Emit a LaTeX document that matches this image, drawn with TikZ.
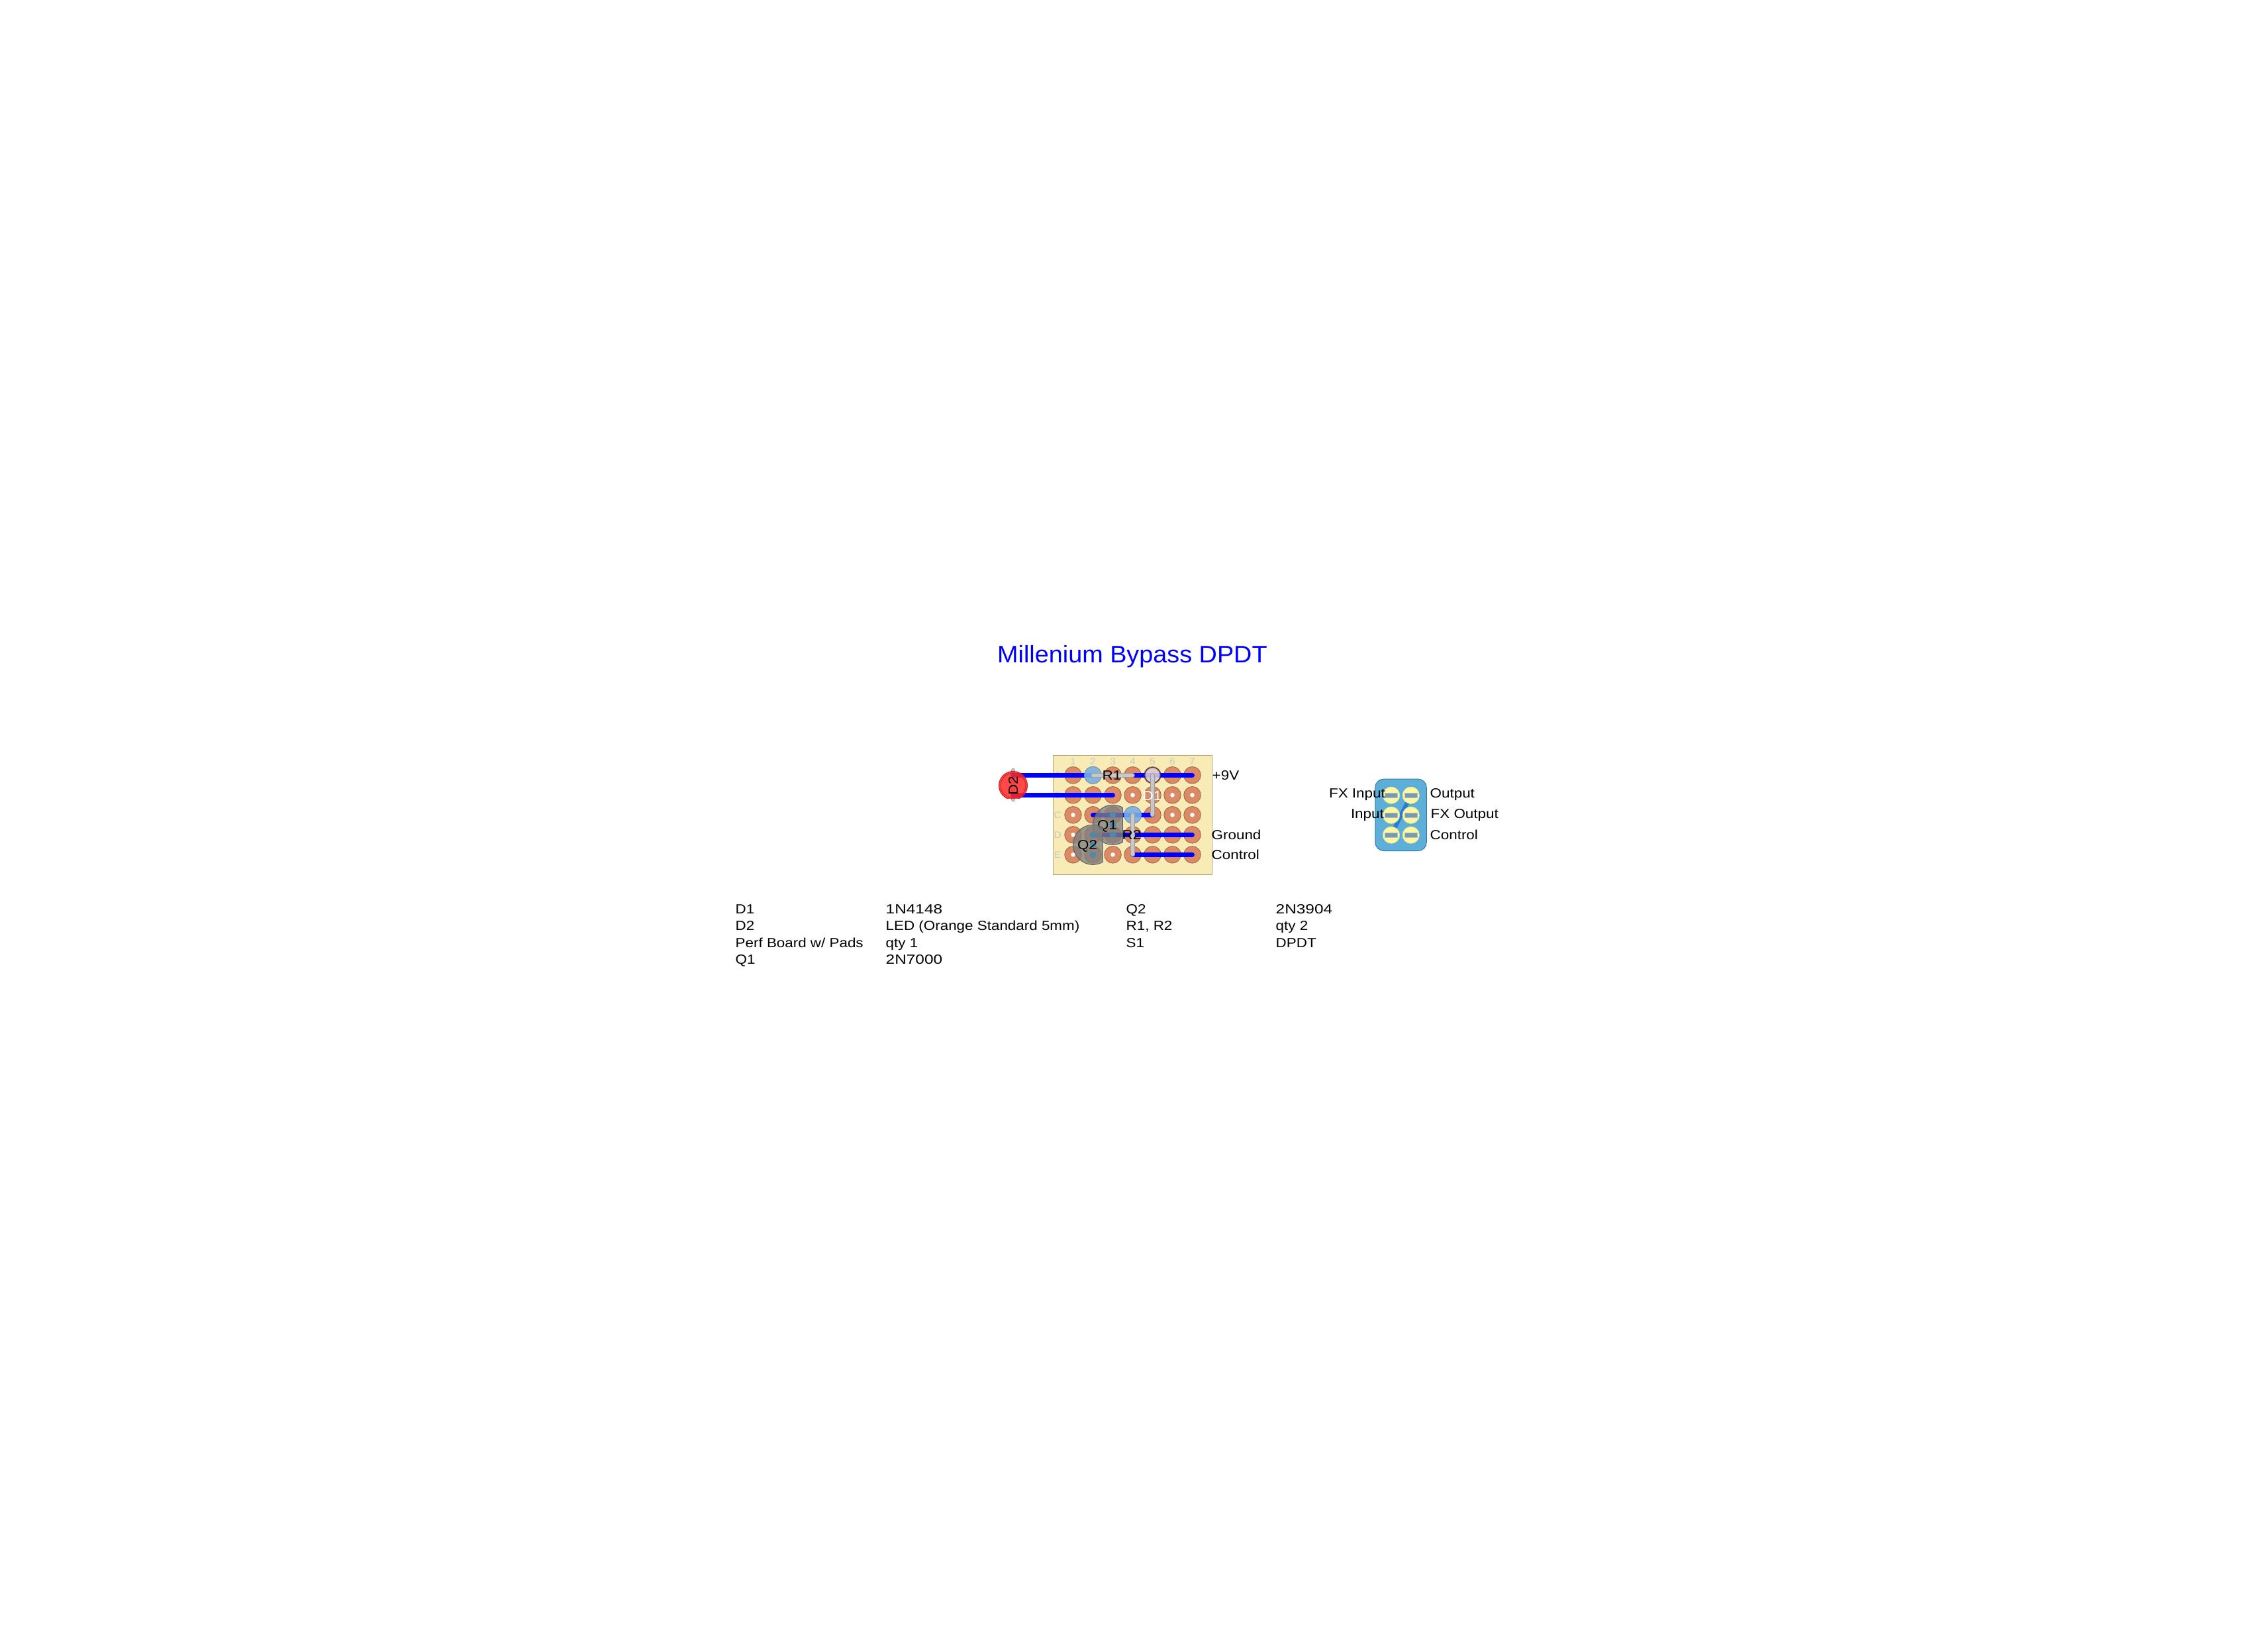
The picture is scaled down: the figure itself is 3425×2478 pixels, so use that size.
\documentclass[tikz,border=0pt]{standalone}
\usepackage{fontspec}
\setmainfont[FakeStretch=1.12]{Liberation Sans}
\newfontfamily\titlefont[FakeStretch=1.05]{Liberation Sans}
\newfontfamily\numfont[FakeStretch=1.22]{Liberation Sans}
\newcommand{\lab}{\fontsize{20}{24}\selectfont}
\newcommand{\coll}{\fontsize{14}{16}\selectfont}
\definecolor{boardfill}{HTML}{F8EBB5}
\definecolor{boardline}{HTML}{B5A873}
\definecolor{padfill}{HTML}{DB8A64}
\definecolor{padline}{HTML}{A56E52}
\definecolor{tracecol}{HTML}{0000FF}
\definecolor{leadfill}{HTML}{C8C8C8}
\definecolor{leadline}{HTML}{9A9AA0}
\definecolor{resfill}{HTML}{7BBAED}
\definecolor{resline}{HTML}{6F98B8}
\definecolor{diofill}{HTML}{E2D6E2}
\definecolor{dioline}{HTML}{4A3A3A}
\definecolor{qfill}{HTML}{808080}
\definecolor{qline}{HTML}{606060}
\definecolor{pinfill}{HTML}{4F89A6}
\definecolor{ledfill}{HTML}{FF2828}
\definecolor{ledline}{HTML}{C82020}
\definecolor{swfill}{HTML}{5DAED8}
\definecolor{swline}{HTML}{2D7BA0}
\definecolor{lugfill}{HTML}{FDF8A0}
\definecolor{slotfill}{HTML}{7A9AB0}
\definecolor{jumpcol}{HTML}{2A7BD8}
\definecolor{gridtext}{HTML}{C8C8C0}
\tikzset{
  padnode/.style={circle,draw=padline,fill=padfill,line width=1pt,minimum size=25.5pt,inner sep=0pt},
  holenode/.style={circle,fill=white,minimum size=6.6pt,inner sep=0pt},
  trace/.style={draw=tracecol,line width=7pt,line cap=round},
  leadbar/.style={draw=leadline,line width=6.5pt,line cap=round},
  leadcore/.style={draw=leadfill,line width=4.5pt,line cap=round},
  resbody/.style={circle,draw=resline,fill=resfill,fill opacity=.86,line width=1pt,minimum size=26pt,inner sep=0pt},
  diobody/.style={circle,draw=dioline,fill=diofill,fill opacity=.84,line width=1.2pt,minimum size=23.5pt,inner sep=0pt},
  qbody/.style={draw=qline,fill=qfill,fill opacity=.78,line width=1pt},
  pin/.style={circle,fill=pinfill,minimum size=10pt,inner sep=0pt},
  gridlabel/.style={text=gridtext,font=\coll,inner sep=0pt},
  txt/.style={font=\lab,inner sep=0pt,anchor=base west,xshift=-1.5pt,yshift=1pt},
  txtr/.style={font=\lab,inner sep=0pt,anchor=base east,yshift=1pt},
  lug/.style={circle,fill=lugfill,draw=lugfill!90!black,line width=.5pt,minimum size=25.5pt,inner sep=0pt},
  slot/.style={rectangle,fill=slotfill,draw=slotfill!60!white,line width=.5pt,minimum width=19pt,minimum height=7.5pt,inner sep=0pt}
}
\begin{document}
\begin{tikzpicture}[x=1pt,y=-1pt]
\useasboundingbox (0,0) rectangle (3425,2478);
% title
\node[inner sep=0pt,anchor=base west,text=blue,font=\titlefont\fontsize{36}{40}\selectfont] (title) at (1506,1000.5) {Millenium Bypass DPDT};
% board
\node[draw=boardline,fill=boardfill,line width=1pt,minimum width=240.5pt,minimum height=180.5pt,inner sep=0pt] (board) at (1710.5,1230.5) {};
% grid labels
\foreach \c/\n in {1/1620.5,2/1650.5,3/1680.5,4/1710.5,5/1740.5,6/1770.5,7/1800.5}
  \node[gridlabel] (col\c) at (\n,1149.5) {\c};
\foreach \r/\y in {A/1170.3,B/1200.3,C/1230.3,D/1260.3,E/1290.3}
  \node[gridlabel] (row\r) at (1597.3,\y) {\r};
% pads
\foreach \r/\y in {A/1170.3,B/1200.3,C/1230.3,D/1260.3,E/1290.3}
  \foreach \c/\n in {1/1620.5,2/1650.5,3/1680.5,4/1710.5,5/1740.5,6/1770.5,7/1800.5}{
    \node[padnode] (p\r\c) at (\n,\y) {};
    \node[holenode] (h\r\c) at (\n,\y) {};
  }
% LED lead and anchor points
\coordinate (ledA) at (1530,1170.3);
\coordinate (ledB) at (1530,1200.3);
\coordinate (ledT) at (1530,1163);
\coordinate (ledE) at (1530,1207);
\draw[leadbar] (ledT) -- (ledE);
\draw[leadcore] (ledT) -- (ledE);
% traces
\draw[trace] (ledA) -- (pA7.center);
\draw[trace] (ledB) -- (pB3.center);
\draw[trace] (pC2.center) -- (pC5.center);
\draw[trace] (pD2.center) -- (pD7.center);
\draw[trace] (pE4.center) -- (pE7.center);
% Q1
\begin{scope}
\clip (1640,1205) rectangle (1695.5,1285);
\node[circle,qbody,minimum size=60pt,inner sep=0pt] (q1body) at (1680.5,1245.3) {};
\end{scope}
\draw[qline,line width=1pt] (1695.5,1219) -- (1695.5,1271.5);
\node[pin] (q1a) at (1680.5,1230.3) {};
\node[pin] (q1b) at (1680.5,1245.3) {};
\node[pin] (q1c) at (1680.5,1260.3) {};
\node[inner sep=0pt,font=\lab] (q1lab) at (1672,1247) {Q1};
% Q2
\begin{scope}
\clip (1610,1235) rectangle (1665.5,1315);
\node[circle,qbody,minimum size=60pt,inner sep=0pt] (q2body) at (1650.5,1275.3) {};
\end{scope}
\draw[qline,line width=1pt] (1665.5,1249) -- (1665.5,1301.5);
\node[pin] (q2a) at (1650.5,1260.3) {};
\node[pin] (q2b) at (1650.5,1275.3) {};
\node[pin] (q2c) at (1650.5,1290.3) {};
\node[inner sep=0pt,font=\lab] (q2lab) at (1642,1277) {Q2};
% R1
\node[resbody] (r1body) at (pA2.center) {};
\draw[leadbar] (pA2.center) -- (pA4.center);
\draw[leadcore] (pA2.center) -- (pA4.center);
\node[inner sep=0pt,font=\lab] (r1lab) at (1679,1170.5) {R1};
% D1
\node[diobody] (d1body) at (pA5.center) {};
\draw[leadbar] (pA5.center) -- (pC5.center);
\draw[leadcore] (pA5.center) -- (pC5.center);
\node[inner sep=0pt,font=\lab,text=white] (d1lab) at (1740,1202) {D1};
% R2
\node[resbody] (r2body) at (pC4.center) {};
\draw[leadbar] (pC4.center) -- (pE4.center);
\draw[leadcore] (pC4.center) -- (pE4.center);
\node[inner sep=0pt,font=\lab] (r2lab) at (1709,1260.5) {R2};
% D2
\begin{scope}
\clip (1500,1155) rectangle (1560,1205);
\node[circle,draw=ledline,fill=ledfill,fill opacity=.85,line width=1pt,minimum size=43pt,inner sep=0pt] (d2body) at (1530,1186) {};
\node[circle,draw=ledline,line width=.8pt,minimum size=38pt,inner sep=0pt] (d2ring) at (1530,1186) {};
\end{scope}
\node[inner sep=0pt,font=\lab,rotate=90] (d2lab) at (1530,1186) {D2};
% board side labels
\node[txt] (l9v) at (1832,1178) {+9V};
\node[txt] (lgnd) at (1831,1268) {Ground};
\node[txt] (lctl) at (1831,1298) {Control};
% switch
\node[draw=swline,fill=swfill,line width=1pt,rounded corners=13pt,minimum width=77.5pt,minimum height=108.5pt,inner sep=0pt] (s1) at (2115.5,1230.3) {};
\coordinate (sw1) at (2130.7,1200.7);
\coordinate (sw2) at (2101,1260.7);
\draw[jumpcol,line width=6pt] (sw1) -- (sw2);
\foreach \n/\x/\y in {a/2101/1200.7,b/2130.7/1200.7,c/2101/1230.7,d/2130.7/1230.7,e/2101/1260.7,f/2130.7/1260.7}{
  \node[lug] (lug\n) at (\x,\y) {};
  \node[slot] (slot\n) at (\x,\y) {};
}
\node[txtr] (sfxi) at (2092,1205.5) {FX Input};
\node[txtr] (sin) at (2090,1236.5) {Input};
\node[txt] (sout) at (2161,1205.5) {Output};
\node[txt] (sfxo) at (2162,1236) {FX Output};
\node[txt] (sctl) at (2161,1268) {Control};
% BOM
\node[txt] (b11) at (1112,1380) {D1};
\node[txt] (b12) at (1339,1380) {\numfont 1N4148};
\node[txt] (b21) at (1112,1405.5) {D2};
\node[txt] (b22) at (1339,1405.5) {LED (Orange Standard 5mm)};
\node[txt] (b31) at (1112,1431) {Perf Board w/ Pads};
\node[txt] (b32) at (1339,1431) {qty 1};
\node[txt] (b41) at (1112,1456.5) {Q1};
\node[txt] (b42) at (1339,1456.5) {\numfont 2N7000};
\node[txt] (b51) at (1702,1380) {Q2};
\node[txt] (b52) at (1928,1380) {\numfont 2N3904};
\node[txt] (b61) at (1702,1405.5) {R1, R2};
\node[txt] (b62) at (1928,1405.5) {qty 2};
\node[txt] (b71) at (1702,1431) {S1};
\node[txt] (b72) at (1928,1431) {DPDT};
\end{tikzpicture}
\end{document}
